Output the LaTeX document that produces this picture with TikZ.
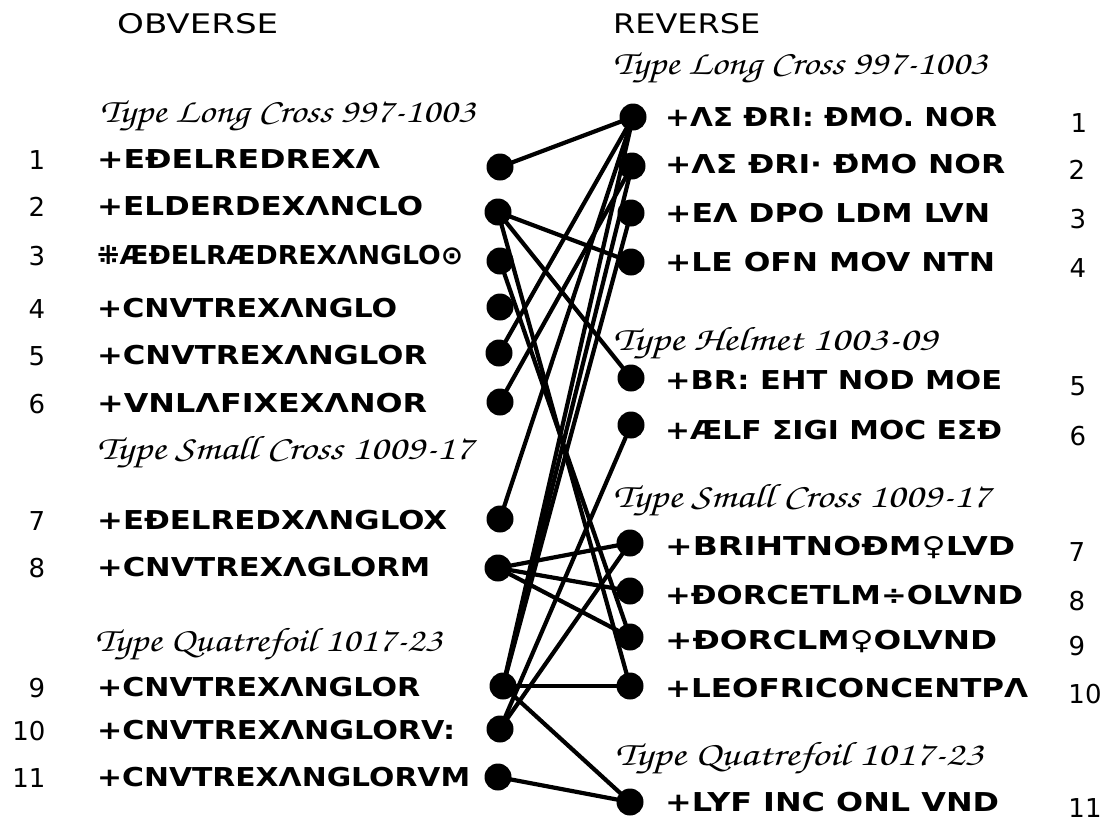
\documentclass[tikz,border=0pt]{standalone}
\usepackage{fontspec}
\usepackage{graphicx}
\newfontfamily\legf{DejaVu Sans}
\newfontfamily\scriptf{TeX Gyre Chorus}
\newsavebox\fitbox
\newcommand\fitw[2]{\sbox\fitbox{#2}\pgfmathsetmacro\fitr{#1/\the\wd\fitbox}\scalebox{\fitr}[1]{\usebox\fitbox}}
\tikzset{
  dot/.style={circle,fill=black,inner sep=0pt,minimum size=27pt},
  link/.style={line width=4.2pt},
  leg/.style={anchor=base west,inner sep=0pt,font=\legf\bfseries\fontsize{26}{26}\selectfont},
  num/.style={anchor=base,inner sep=0pt,font=\legf\fontsize{26}{26}\selectfont},
  typeh/.style={anchor=base west,inner sep=0pt,font=\scriptf\fontsize{34}{34}\selectfont},
  head/.style={anchor=base west,inner sep=0pt,font=\legf\fontsize{27}{27}\selectfont},
}
\begin{document}
\begin{tikzpicture}[x=1pt,y=-1pt]
\useasboundingbox[fill=white] (0,0) rectangle (1108,822);
% headers
\node[head] (hob) at (117,33) {\fitw{161}{OBVERSE}};
\node[head] (hre) at (613,33) {\fitw{147}{REVERSE}};
% left type headings
\node[typeh] (lt1) at (100,122) {\fitw{375}{Type Long Cross 997-1003}};
\node[typeh] (lt2) at (97,459) {\fitw{376}{Type Small Cross 1009-17}};
\node[typeh] (lt3) at (95,651) {\fitw{347}{Type Quatrefoil 1017-23}};
% right type headings
\node[typeh] (rt1) at (613,74) {\fitw{374}{Type Long Cross 997-1003}};
\node[typeh] (rt2) at (613,350) {\fitw{324}{Type Helmet 1003-09}};
\node[typeh] (rt3) at (613,507) {\fitw{377}{Type Small Cross 1009-17}};
\node[typeh] (rt4) at (615,765) {\fitw{368}{Type Quatrefoil 1017-23}};
% left legends
\foreach \n/\y/\w/\t/\nx in {
  1/159/283/{+EÐELREDREXΛ}/37,
  2/206/326/{+ELDERDEXΛNCLO}/37,
  3/255/366/{⁜ÆÐELRÆDREXΛNGLO⊙}/37,
  4/308/300/{+CNVTREXΛNGLO}/37,
  5/355/330/{+CNVTREXΛNGLOR}/37,
  6/403/330/{+VNLΛFIXEXΛNOR}/37,
  7/520/350/{+EÐELREDXΛNGLOX}/37,
  8/567/333/{+CNVTREXΛGLORM}/37,
  9/687/323/{+CNVTREXΛNGLOR}/37,
  10/730/358/{+CNVTREXΛNGLORV:}/29,
  11/777/373/{+CNVTREXΛNGLORVM}/29}{
  \node[leg] (ll\n) at (97,\y+9.5) {\fitw{\w}{\t}};
  \node[num] (ln\n) at (\nx,\y+10) {\n};
}
% right legends
\foreach \n/\y/\w/\t/\nx in {
  1/117/332/{+ΛΣ ÐRI: ÐMO. NOR}/1079,
  2/164/340/{+ΛΣ ÐRI· Ð̇MO NOR}/1077,
  3/213/325/{+EΛ DPO LDM LVN}/1078,
  4/262/330/{+LE OFN MOV NTN}/1078,
  5/380/337/{+BR: EHT NOD MOE}/1078,
  6/430/337/{+ÆLF ΣIGI MOC EΣÐ}/1078,
  7/546/350/{+BRIHTNOÐM♀LVD}/1077,
  8/595/358/{+ÐORCETLM÷OLVND}/1077,
  9/640/332/{+ÐORCLM♀OLVND}/1077,
  10/688/363/{+LEOFRICONCENTPΛ}/1085,
  11/802/334/{+LYF INC ONL VND}/1085}{
  \node[leg] (rl\n) at (665,\y+9.5) {\fitw{\w}{\t}};
  \node[num] (rn\n) at (\nx,\y+15) {\n};
}
% dot positions
\foreach \n/\x/\y in {1/500/167,2/498/212,3/500/261,4/500/307,5/499/353,6/500/402,7/500/519,8/498/568,9/503/686,10/500/729,11/498/777}
  \coordinate (L\n) at (\x,\y);
\foreach \n/\x/\y in {1/633/117,2/632/166,3/631/213,4/631/262,5/631/378,6/631/425,7/630/543,8/630/591,9/630/637,10/630/686,11/630/802}
  \coordinate (R\n) at (\x,\y);
% links
\foreach \a/\b in {L1/R1,L5/R1,L7/R1,L9/R1,L6/R2,L9/R2,L9/R3,L2/R4,L2/R5,L2/R10,L3/R9,L10/R6,L8/R7,L8/R8,L8/R9,L10/R7,L9/R10,L9/R11,L11/R11}
  \draw[link] (\a) -- (\b);
% dots
\foreach \n in {1,...,11} {
  \node[dot] (dl\n) at (L\n) {};
  \node[dot] (dr\n) at (R\n) {};
}
\end{tikzpicture}
\end{document}
